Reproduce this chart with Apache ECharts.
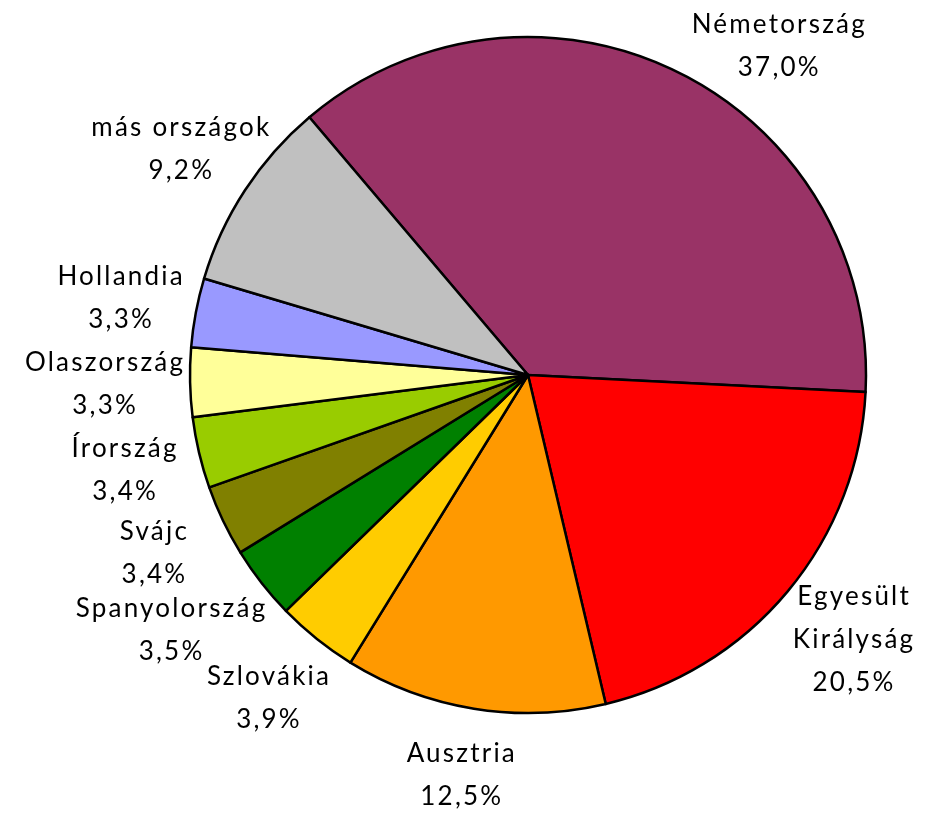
<!DOCTYPE html>
<html>
<head>
<meta charset="utf-8">
<script src="https://cdn.jsdelivr.net/npm/echarts@6/dist/echarts.min.js"></script>
<style>
html,body{margin:0;padding:0;background:#fff;}
#chart{width:935px;height:813px;}
</style>
</head>
<body>
<div id="chart"></div>
<script>
// ---- data ----
var categories = ['Németország', 'Egyesült Királyság', 'Ausztria', 'Szlovákia', 'Spanyolország', 'Svájc', 'Írország', 'Olaszország', 'Hollandia', 'más országok'];
var labelLines = [['Németország'], ['Egyesült', 'Királyság'], ['Ausztria'], ['Szlovákia'], ['Spanyolország'], ['Svájc'], ['Írország'], ['Olaszország'], ['Hollandia'], ['más országok']];
var shares = [37.0, 20.5, 12.5, 3.9, 3.5, 3.4, 3.4, 3.3, 3.3, 9.2];
var colors = ['#993366', '#FF0000', '#FF9900', '#FFCC00', '#008000', '#808000', '#99CC00', '#FFFF99', '#9999FF', '#C0C0C0'];

// ---- layout constants ----
var W = 935, H = 813;
var CX = 528, CY = 375, R = 338;
var LABEL_OFF = 76;
var GAP = 4;
var FONT_SIZE = 26, LINE_H = 43, GLYPH_HALF = 11;

// widen glyph spacing a little (reference text is loosely tracked)
(function () {
  var P = CanvasRenderingContext2D.prototype;
  if (!('letterSpacing' in P)) return;
  var LS = '2.2px';
  var mt = P.measureText, ft = P.fillText;
  P.measureText = function () { this.letterSpacing = LS; return mt.apply(this, arguments); };
  P.fillText = function () { this.letterSpacing = LS; return ft.apply(this, arguments); };
})();

var mctx = document.createElement('canvas').getContext('2d');
mctx.font = FONT_SIZE + 'px Lato';
function textW(s) { return mctx.measureText(s).width; }

var chart = echarts.init(document.getElementById('chart'), null, {renderer: 'canvas'});

var seriesData = categories.map(function (c, i) {
  return {name: c, value: shares[i], itemStyle: {color: colors[i]}};
});

function fmtPct(v) { return v.toFixed(1).replace('.', ',') + '%'; }
function linesOf(i) { var l = labelLines[i].slice(); l.push(fmtPct(shares[i])); return l; }

// smallest distance from pie centre to any text line box of a label centred at (nx, ny)
function clearance(lines, nx, ny) {
  var n = lines.length, best = Infinity;
  for (var k = 0; k < n; k++) {
    var w = textW(lines[k]);
    var cy = ny + (k - (n - 1) / 2) * LINE_H;
    var qx = Math.max(nx - w / 2, Math.min(CX, nx + w / 2));
    var qy = Math.max(cy - GLYPH_HALF, Math.min(CY, cy + GLYPH_HALF));
    var d = Math.sqrt((qx - CX) * (qx - CX) + (qy - CY) * (qy - CY));
    if (d < best) best = d;
  }
  return best;
}

var option = {
  backgroundColor: '#ffffff',
  animation: false,
  series: [{
    type: 'pie',
    center: [CX, CY],
    radius: [0, R],
    startAngle: 130.3,
    clockwise: true,
    avoidLabelOverlap: false,
    data: seriesData,
    itemStyle: {borderColor: '#000', borderWidth: 2.5},
    emphasis: {disabled: true},
    label: {
      show: true,
      position: 'inside',
      color: '#000',
      fontFamily: 'Lato',
      fontSize: FONT_SIZE,
      lineHeight: LINE_H,
      formatter: function (p) {
        return linesOf(p.dataIndex).map(function (l) { return '{a|' + l + '}'; }).join('\n');
      },
      rich: {
        a: {align: 'center', color: '#000', fontFamily: 'Lato', fontSize: FONT_SIZE, lineHeight: LINE_H}
      }
    },
    labelLine: {show: false},
    labelLayout: function (p) {
      var r = p.labelRect;
      var h = r.height;
      var lines = linesOf(p.dataIndex);
      var lx = r.x + r.width / 2, ly = r.y + h / 2;
      var dx = lx - CX, dy = ly - CY;
      var d = Math.sqrt(dx * dx + dy * dy) || 1;
      var ux = dx / d, uy = dy / d;
      var D = R + LABEL_OFF;
      var nx = CX + ux * D, ny = CY + uy * D;
      if (ny - h / 2 < 3) {
        ny = 3 + h / 2;
        var ddy = ny - CY;
        nx = CX + (ux >= 0 ? 1 : -1) * Math.sqrt(Math.max(0, D * D - ddy * ddy));
      }
      if (ny + h / 2 > H + 5) {
        ny = H + 5 - h / 2;
      }
      // push sideways until the text clears the pie
      var sx = ux >= 0 ? 1 : -1, guard = 0;
      while (clearance(lines, nx, ny) < R + GAP && guard++ < 300) {
        nx += sx;
      }
      return {x: nx, y: ny, align: 'center', verticalAlign: 'middle'};
    }
  }]
};
chart.setOption(option);
</script>
</body>
</html>
